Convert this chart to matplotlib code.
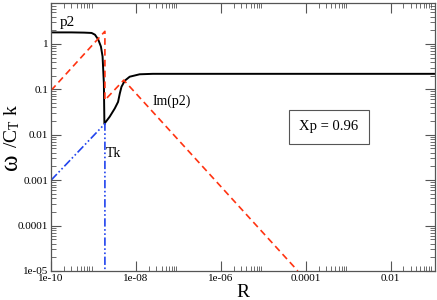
import matplotlib
matplotlib.use("Agg")
import matplotlib.pyplot as plt
from matplotlib.ticker import LogLocator, FixedLocator, NullFormatter

plt.rcParams['font.family'] = ['Liberation Serif', 'DejaVu Serif']
plt.rcParams['mathtext.fontset'] = 'custom'
plt.rcParams['mathtext.rm'] = 'Liberation Serif'
plt.rcParams['mathtext.it'] = 'Liberation Serif:italic'

# black solid curve p2
p2_R = [1e-10, 3e-10, 6e-10, 9e-10, 1.08e-9, 1.29e-9, 1.49e-9, 1.63e-9, 1.75e-9, 1.8e-9,
        2.4e-9, 3.16e-9, 3.78e-9, 4.15e-9, 4.55e-9, 5.43e-9, 7.1e-9, 1.22e-8, 2.5e-8,
        1e-6, 1e-4, 0.12]
p2_val = [1.8, 1.8, 1.78, 1.75, 1.6, 1.25, 0.88, 0.53, 0.135, 0.0175,
          0.025, 0.038, 0.053, 0.081, 0.114, 0.155, 0.19, 0.215, 0.22,
          0.22, 0.22, 0.22]

# red dashed Im(p2)
im_R = [1e-10, 1.85e-9, 1.85e-9, 5.15e-9, 6.5e-5]
im_val = [0.095, 1.9, 0.058, 0.16, 1e-5]

# blue dash-dot Tk
tk_R = [1e-10, 1.85e-9, 1.85e-9]
tk_val = [0.001, 0.0175, 1e-5]

fig = plt.figure(figsize=(4.37, 3.0), dpi=100)
ax = fig.add_axes([0.117, 0.097, 0.878, 0.893])

ax.plot(p2_R, p2_val, color='black', lw=1.4)
ax.plot(im_R, im_val, color='#ff3311', lw=1.2, ls=(0, (4, 2.5)))
ax.plot(tk_R, tk_val, color='#2244ee', lw=1.2, ls=(0, (5, 1.5, 1, 1.5, 1, 1.5)))

ax.set_xscale('log')
ax.set_yscale('log')
ax.set_xlim(1e-10, 0.11)
ax.set_ylim(1e-5, 8)

xt = [1e-10, 1e-8, 1e-6, 1e-4, 1e-2]
xt_labels = ['1e-10', '1e-08', '1e-06', '0.0001', '0.01']
yt = [1e-5, 1e-4, 1e-3, 1e-2, 1e-1, 1]
yt_labels = ['1e-05', '0.0001', '0.001', '0.01', '0.1', '1']
ax.set_xticks(xt)
ax.set_xticklabels(xt_labels)
ax.set_yticks(yt)
ax.set_yticklabels(yt_labels)
xminor = [k * m for m in xt for k in range(2, 10)]
ax.xaxis.set_minor_locator(FixedLocator(xminor))
ax.yaxis.set_minor_locator(LogLocator(base=10, subs=[2, 3, 4, 5, 6, 7, 8, 9], numticks=30))
ax.xaxis.set_minor_formatter(NullFormatter())
ax.yaxis.set_minor_formatter(NullFormatter())
ax.tick_params(which='both', direction='in', top=True, right=True, labelsize=8,
               colors='#555555', labelcolor='black', pad=2)
ax.tick_params(which='major', length=7, width=0.8)
ax.tick_params(which='minor', length=3.5, width=0.6)
for s in ax.spines.values():
    s.set_color('#555555')
    s.set_linewidth(0.9)

ax.set_xlabel('R', fontsize=14)
ax.xaxis.set_label_coords(0.5, -0.048)

# y-axis label: large omega followed by smaller "/C_T k"
ax.text(-0.0885, 0.376, 'ω', fontsize=18, rotation=90, rotation_mode='anchor',
        ha='left', va='baseline', transform=ax.transAxes)
ax.text(-0.0885, 0.459, r'/C$_{\mathrm{T}}$ k', fontsize=14, rotation=90,
        rotation_mode='anchor', ha='left', va='baseline', transform=ax.transAxes)

ax.text(1.6e-10, 2.5, 'p2', fontsize=11)
ax.text(2.45e-8, 0.045, 'Im(p2)', fontsize=10)
ax.text(1.95e-9, 0.0033, 'Tk', fontsize=10)
ax.text(7.0e-5, 0.0125, 'Xp = 0.96', fontsize=10.5,
        bbox=dict(boxstyle='square,pad=0.7', fc='white', ec='#555555', lw=0.8))

fig.savefig('out.png', dpi=100)
